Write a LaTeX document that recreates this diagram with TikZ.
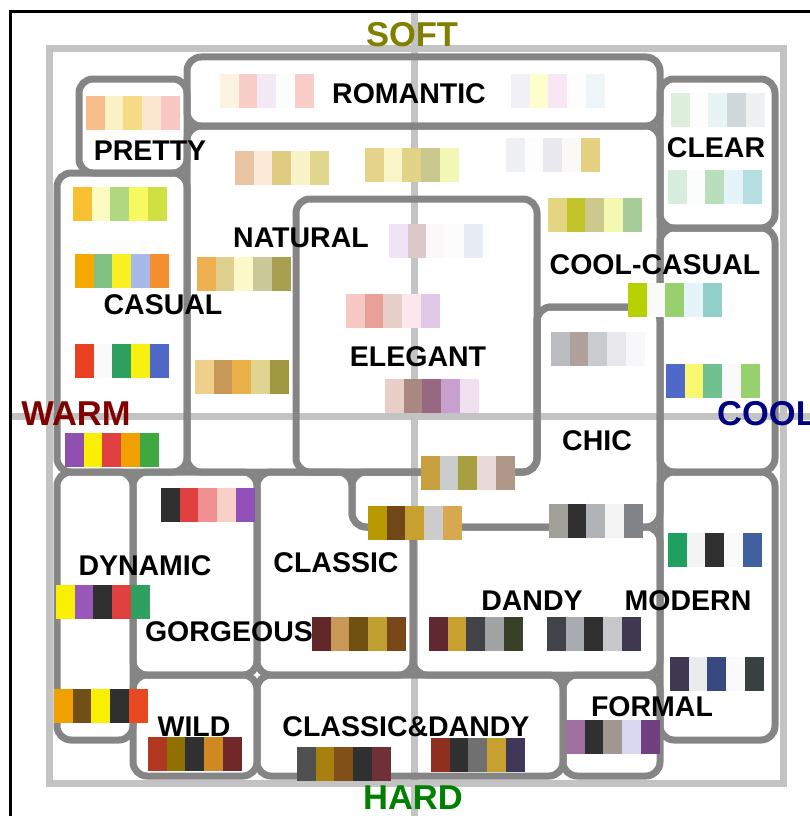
\documentclass[tikz,border=0pt]{standalone}
\usepackage{fontspec}
\setmainfont{Liberation Sans}

\definecolor{linegray}{HTML}{858585}
\definecolor{framegray}{HTML}{C3C3C3}
\definecolor{softcol}{HTML}{808000}
\definecolor{hardcol}{HTML}{008000}
\definecolor{warmcol}{HTML}{800000}
\definecolor{coolcol}{HTML}{000080}

% five colour swatches, top-left corner at (#1,#2)
\newcommand{\swatches}[3]{%
  \foreach \c [count=\i from 0] in {#3} {%
    \definecolor{swatch}{HTML}{\c}%
    \fill[swatch] ({#1+\i*18.7},#2) rectangle ++(18.7,34);
  }}

\begin{document}
\begin{tikzpicture}[
    x=1pt, y=-1pt,
    region/.style={draw=linegray, line width=7, rounded corners=14},
    axis/.style={draw=framegray, line width=7},
    lbl/.style={font=\bfseries\fontsize{28.5}{30}\selectfont, inner sep=0pt},
    pole/.style={font=\bfseries\fontsize{34.5}{36}\selectfont, inner sep=0pt}
]
\useasboundingbox (0,0) rectangle (810,816);

% axes and frame
\draw[axis] (414,11) -- (414,816);
\draw[axis] (10,416) -- (810,416);
\draw[axis] (49,49) rectangle (783,783);
\draw[black, line width=2.5] (10.5,816) -- (10.5,11.5) -- (810,11.5);

% regions
\draw[region] (79,79) rectangle (187,173);    % pretty
\draw[region] (187,57) rectangle (660,126);   % romantic
\draw[region] (660,79) rectangle (775,228);   % clear
\draw[region] (57,173) rectangle (187,472);   % casual
\draw[region] (187,126) -- (660,126) -- (660,307) -- (537,307)
    -- (537,472) -- (187,472) -- cycle;       % natural
\draw[region] (296,199) rectangle (537,472);  % elegant
\draw[region] (660,228) rectangle (775,472);  % cool-casual
\draw[region] (537,307) -- (660,307) -- (660,527) -- (352,527)
    -- (352,472) -- (537,472) -- cycle;       % chic
\draw[region] (57,472) rectangle (133,740);   % dynamic
\draw[region] (133,472) rectangle (257,675);  % gorgeous
\draw[region] (257,472) -- (352,472) -- (352,527) -- (413,527)
    -- (413,675) -- (257,675) -- cycle;       % classic
\draw[region] (413,527) rectangle (660,675);  % dandy
\draw[region] (660,472) rectangle (775,740);  % modern
\draw[region] (133,675) rectangle (257,776);  % wild
\draw[region] (257,675) rectangle (563,776);  % classic & dandy
\draw[region] (563,675) rectangle (660,776);  % formal

% palettes
\swatches{86}{96}{F7BE8C,FAF2C4,F7DB86,FBE7CF,F8C9C2}
\swatches{220}{74}{FCF3E0,F9CEC8,F3E8F6,FBFDFC,F9CDC8}
\swatches{511}{74}{F0F0F6,FEFECC,F8E6F4,FDFDFD,EEF5F8}
\swatches{671}{93}{DDEEDC,FCFDFC,E8F4F4,D0D8DC,EEF0F2}
\swatches{235}{151}{E8C4A4,FBEAD8,E0CC80,F8F3C8,E1D78C}
\swatches{365}{148}{E6D38A,FAF6C8,E2D486,C9C98F,F3F7B4}
\swatches{506}{138}{EEF0F4,FDFDFD,E8E8EE,FBF8F8,E5CF80}
\swatches{668}{170}{D8EEDC,FBFDFC,B8DEBC,E4F4F8,B4DEE0}
\swatches{73}{187}{F8C030,FCFCC0,B0D880,F8F860,D0E040}
\swatches{548}{198}{E3D582,C3C42A,CDC98E,F4F8B0,A8CC98}
\swatches{389}{224}{F0E4F4,DCC8C8,FAF8F8,FCFCFC,E8ECF4}
\swatches{75}{254}{F4A800,80C080,F8F020,A8B8E8,F49030}
\swatches{197}{257}{EEB050,E0D090,FCF8C8,C8C898,A8A050}
\swatches{628}{283}{B8D000,FAFAF8,98D070,E4F4F8,90D0C8}
\swatches{346}{294}{F8C8C4,E8A098,E8D0C8,FCE8EC,E0C8E8}
\swatches{551}{332}{BABCC0,B0A09C,C8CCCE,E8E8EC,F8F8FA}
\swatches{75}{344}{E84020,FAFAFA,30A060,F8F010,5068C8}
\swatches{195}{360}{EED08A,C89858,EAB048,E0D490,A09840}
\swatches{666}{364}{5068C8,F8F870,70C090,FAFAFA,98D070}
\swatches{385}{379}{E8D0C8,A88880,986880,C8A0D0,F0E0F0}
\swatches{65}{433}{9050B0,F8F000,E04040,F0A000,40A840}
\swatches{421}{456}{C8A040,C8CCCC,A8A040,E8D8D8,B09888}
\swatches{161}{488}{303030,E04040,F09090,F8D0C8,9050B8}
\swatches{368}{506}{B89800,704818,C8A030,CCCCCC,D8A850}
\swatches{549}{504}{A0A098,303030,B0B4B8,F4F4F4,808488}
\swatches{668}{533}{20A060,F4F4F4,303030,FAFAFA,4060A0}
\swatches{56}{585}{F8F000,9858B8,303030,E04040,30A060}
\swatches{312}{617}{602828,C89858,705010,C0A030,784818}
\swatches{429}{617}{602830,C8A030,404448,A0A4A4,384028}
\swatches{547}{617}{404448,A8ACB0,303030,C8C8CC,403850}
\swatches{670}{657}{403850,E8ECEC,384880,FAFAFA,384040}
\swatches{54}{689}{F0A000,705018,F8F000,303030,E84820}
\swatches{566}{720}{A070A0,303030,A09890,D8D8F0,704080}
\swatches{431}{738}{903020,303030,707070,C8A030,403858}
\swatches{297}{747}{505050,A88010,805018,303030,703038}
\swatches{148}{737}{B03820,907000,303030,D08820,702828}

% labels
\node[lbl] (romantic) at (409,94) {ROMANTIC};
\node[lbl] (pretty) at (150,151) {PRETTY};
\node[lbl] (clear) at (716,148) {CLEAR};
\node[lbl] (natural) at (301,238) {NATURAL};
\node[lbl] (coolcasual) at (655,265) {COOL-CASUAL};
\node[lbl] (casual) at (163,305) {CASUAL};
\node[lbl] (elegant) at (418,357) {ELEGANT};
\node[lbl] (chic) at (597,441) {CHIC};
\node[lbl] (dynamic) at (145,566) {DYNAMIC};
\node[lbl] (classic) at (336,563) {CLASSIC};
\node[lbl] (gorgeous) at (229,632) {GORGEOUS};
\node[lbl] (dandy) at (532,601) {DANDY};
\node[lbl] (modern) at (688,601) {MODERN};
\node[lbl] (formal) at (652,707) {FORMAL};
\node[lbl] (wild) at (194,727) {WILD};
\node[lbl] (classicdandy) at (406,727) {CLASSIC\&DANDY};

\node[pole, softcol] (soft) at (412,35) {SOFT};
\node[pole, hardcol] (hard) at (413,798) {HARD};
\node[pole, warmcol] (warm) at (76,414) {WARM};
\node[pole, coolcol] (cool) at (767,414) {COOL};
\end{tikzpicture}
\end{document}
